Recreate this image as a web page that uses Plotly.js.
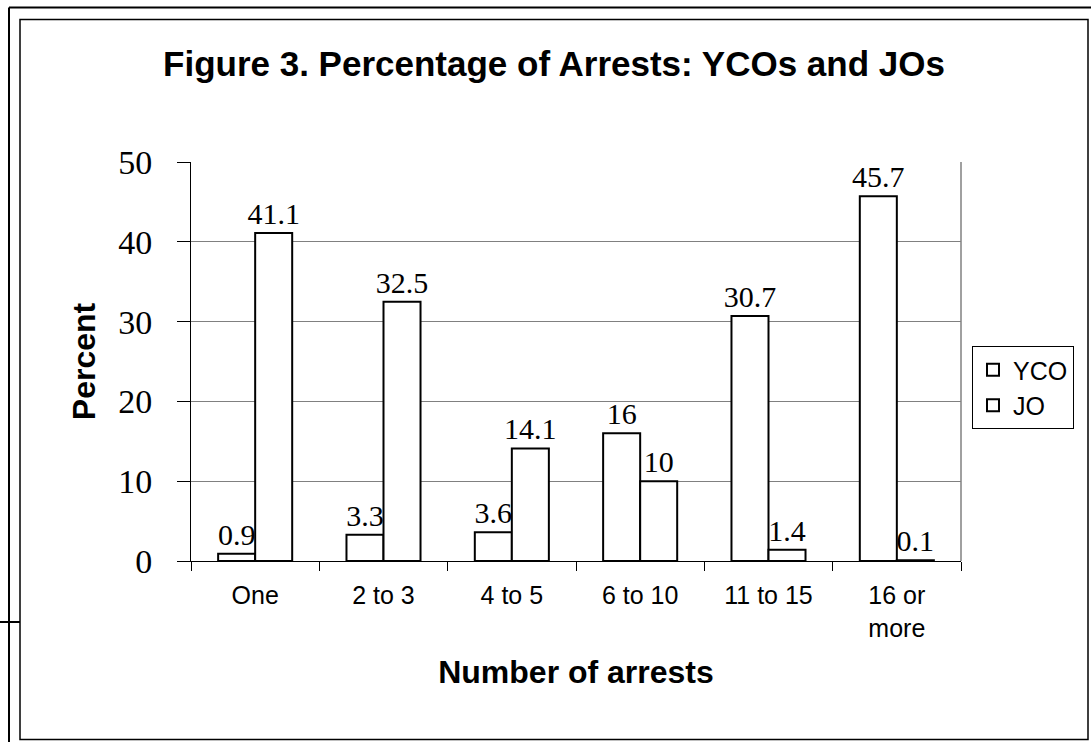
<!DOCTYPE html>
<html>
<head>
<meta charset="utf-8">
<script src="https://cdn.plot.ly/plotly-3.0.1.min.js"></script>
<style>html,body{margin:0;padding:0;background:#fff;}#chart{width:1091px;height:742px;}</style>
</head>
<body>
<div id="chart"></div>
<script>
const categories = ["One", "2 to 3", "4 to 5", "6 to 10", "11 to 15", "16 or<br>more"];
const ycoValues = [0.9, 3.3, 3.6, 16, 30.7, 45.7];
const joValues = [41.1, 32.5, 14.1, 10, 1.4, 0.1];
const seriesNames = ["YCO", "JO"];
const yTicks = [0, 10, 20, 30, 40, 50];

const W = 1091, H = 742;
const L = 191, R = 961, T = 162, B = 561;
const px = v => (v - L) / (R - L);
const py = v => (B - v) / (B - T);

const serif = "Liberation Serif, Times New Roman, serif";
const sans = "Liberation Sans, Arial, sans-serif";

function barTrace(name, vals, group) {
  return {
    type: "bar", name: name, x: categories, y: vals,
    legendgroup: group,
    marker: {color: "#ffffff", line: {color: "#000000", width: 2}},
    text: vals.map(v => String(v)),
    textposition: "outside",
    constraintext: "none",
    textfont: {family: serif, size: 30, color: "#000"},
    cliponaxis: false,
    hoverinfo: "skip"
  };
}

const data = [barTrace(seriesNames[0], ycoValues, "a"), barTrace(seriesNames[1], joValues, "b")];

const lineBlack = {color: "#000", width: 2};
const layout = {
  width: W, height: H,
  margin: {l: L, r: W - R, t: T, b: H - B, pad: 0},
  paper_bgcolor: "#fff", plot_bgcolor: "#fff",
  showlegend: true,
  uniformtext: {mode: false},
  title: {
    text: "<b>Figure 3. Percentage of Arrests: YCOs and JOs</b>",
    font: {family: sans, size: 35, color: "#000"},
    x: 554 / W, xanchor: "center", xref: "container",
    y: 1 - 64 / H, yanchor: "middle", yref: "container"
  },
  barmode: "group", bargap: 0.423, bargroupgap: 0,
  xaxis: {
    type: "category", tickson: "boundaries", ticks: "outside", ticklen: 9, tickwidth: 1, tickcolor: "#000",
    showline: true, linecolor: "#000", linewidth: 1, showgrid: false,
    tickfont: {family: sans, size: 25, color: "#000"}, ticklabelstandoff: 12,
    title: {text: "<b>Number of arrests</b>", font: {family: sans, size: 32, color: "#000"}, standoff: 20},
    fixedrange: true
  },
  yaxis: {
    range: [0, 50], tickvals: yTicks, ticktext: yTicks.map(String),
    ticks: "outside", ticklen: 13, tickwidth: 1, tickcolor: "#000",
    showline: true, linecolor: "#000", linewidth: 1,
    showgrid: true, gridcolor: "#808080", gridwidth: 1, zeroline: false,
    tickfont: {family: serif, size: 34, color: "#000"}, ticklabelstandoff: 18,
    title: {text: "<b>Percent</b>", font: {family: sans, size: 32, color: "#000"}, standoff: 13},
    fixedrange: true
  },
  legend: {
    x: px(972), xanchor: "left", y: py(346), yanchor: "top",
    bgcolor: "#fff", bordercolor: "#000", borderwidth: 1,
    font: {family: sans, size: 25, color: "#000"},
    tracegroupgap: 10, traceorder: "normal"
  },
  shapes: [
    {type: "line", xref: "paper", yref: "paper", x0: 1, x1: 1, y0: 0, y1: 1, line: {color: "#808080", width: 1.5}, layer: "below"},
    {type: "line", xref: "paper", yref: "paper", x0: px(9), x1: px(1091), y0: py(7.5), y1: py(7.5), line: lineBlack},
    {type: "line", xref: "paper", yref: "paper", x0: px(9), x1: px(9), y0: py(7.5), y1: py(742), line: lineBlack},
    {type: "rect", xref: "paper", yref: "paper", x0: px(20), x1: px(1088), y0: py(19.5), y1: py(739.5), line: {color: "#000", width: 1.5}},
    {type: "line", xref: "paper", yref: "paper", x0: px(0), x1: px(20), y0: py(622), y1: py(622), line: lineBlack}
  ]
};

Plotly.newPlot("chart", data, layout, {displayModeBar: false, staticPlot: true});
</script>
</body>
</html>
